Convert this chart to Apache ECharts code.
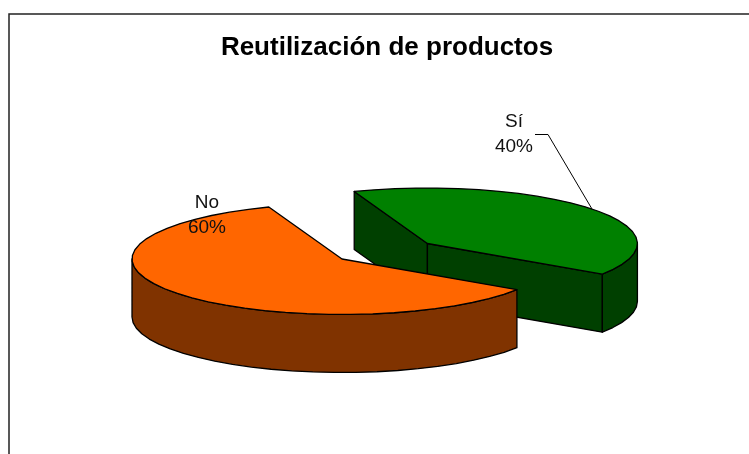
<!DOCTYPE html>
<html>
<head>
<meta charset="utf-8">
<style>html,body{margin:0;padding:0;background:#fff}#c{width:749px;height:454px}</style>
<script src="https://cdn.jsdelivr.net/npm/echarts@6/dist/echarts.min.js"></script>
</head>
<body>
<div id="c"></div>
<script>
const categories = ['Sí', 'No'];
const values = [40, 60];
const topColors = ['#008000', '#FF6600'];
const sideColors = ['#004000', '#803300'];
const explodeX = [0.519, 0];
const explodeY = [0.45, 0];
const labelPos = [[514, 134], [207, 215]];

const CX = 342, CY = 259, RX = 210, RY = 55.5, DEPTH = 58, START = 249.6, STEP = 6;
const FONT = 'Liberation Sans, Arial, sans-serif';
const total = values.reduce((a, b) => a + b, 0);
const rad = d => d * Math.PI / 180;

function renderItem(params, api) {
  const i = params.dataIndex;
  const val = api.value(0);
  let before = 0;
  for (let k = 0; k < i; k++) before += values[k];
  const a = START + before / total * 360;
  const b = a + val / total * 360;
  const mid = (a + b) / 2;
  const cx = CX + Math.cos(rad(mid)) * RX * explodeX[i];
  const cy = CY + Math.sin(rad(mid)) * RY * explodeY[i];
  const pt = (d, dz) => [cx + Math.cos(rad(d)) * RX, cy + Math.sin(rad(d)) * RY + (dz || 0)];
  const arc = (from, to, dz) => {
    const out = [];
    const n = Math.max(1, Math.ceil((to - from) / STEP));
    for (let s = 0; s <= n; s++) out.push(pt(from + (to - from) * s / n, dz));
    return out;
  };
  const poly = (points, fill) => ({
    type: 'polygon',
    shape: { points },
    style: { fill, stroke: '#000', lineWidth: 1.3, lineJoin: 'round' }
  });
  const children = [];
  const side = sideColors[i];
  if (Math.cos(rad(a)) < 0) children.push(poly([[cx, cy], pt(a), pt(a, DEPTH), [cx, cy + DEPTH]], side));
  if (Math.cos(rad(b)) > 0) children.push(poly([[cx, cy], pt(b), pt(b, DEPTH), [cx, cy + DEPTH]], side));
  [[0, 180], [360, 540]].forEach(r => {
    const f = Math.max(a, r[0]), t = Math.min(b, r[1]);
    if (t > f) children.push(poly(arc(f, t, 0).concat(arc(f, t, DEPTH).reverse()), side));
  });
  children.push(poly([[cx, cy]].concat(arc(a, b, 0)), topColors[i]));
  const pct = Math.round(val / total * 100) + '%';
  const lp = labelPos[i];
  children.push({
    type: 'text',
    style: {
      text: categories[i] + '\n' + pct,
      x: lp[0], y: lp[1], align: 'center', verticalAlign: 'middle',
      font: '19px ' + FONT, lineHeight: 25, fill: '#111'
    }
  });
  if (i === 0) {
    const rim = pt(mid);
    children.push({
      type: 'polyline',
      shape: { points: [[lp[0] + 21, lp[1] + 0.5], [lp[0] + 34, lp[1] + 0.5], rim] },
      style: { stroke: '#000', lineWidth: 1, fill: null }
    });
  }
  return { type: 'group', children };
}

const chart = echarts.init(document.getElementById('c'), null, { renderer: 'canvas' });
chart.setOption({
  animation: false,
  backgroundColor: '#fff',
  title: {
    text: 'Reutilización de productos',
    left: 382, top: 30, textAlign: 'center',
    textStyle: { fontFamily: FONT, fontWeight: 'bold', fontSize: 26, color: '#000' }
  },
  graphic: [
    { type: 'polyline', silent: true,
      shape: { points: [[9, 454], [9, 14], [749, 14]] },
      style: { stroke: '#222', lineWidth: 1.5, fill: null } }
  ],
  series: [{
    type: 'custom',
    coordinateSystem: 'none',
    renderItem,
    silent: true,
    data: values.map((v, i) => ({ name: categories[i], value: [v] }))
  }]
});
</script>
</body>
</html>
